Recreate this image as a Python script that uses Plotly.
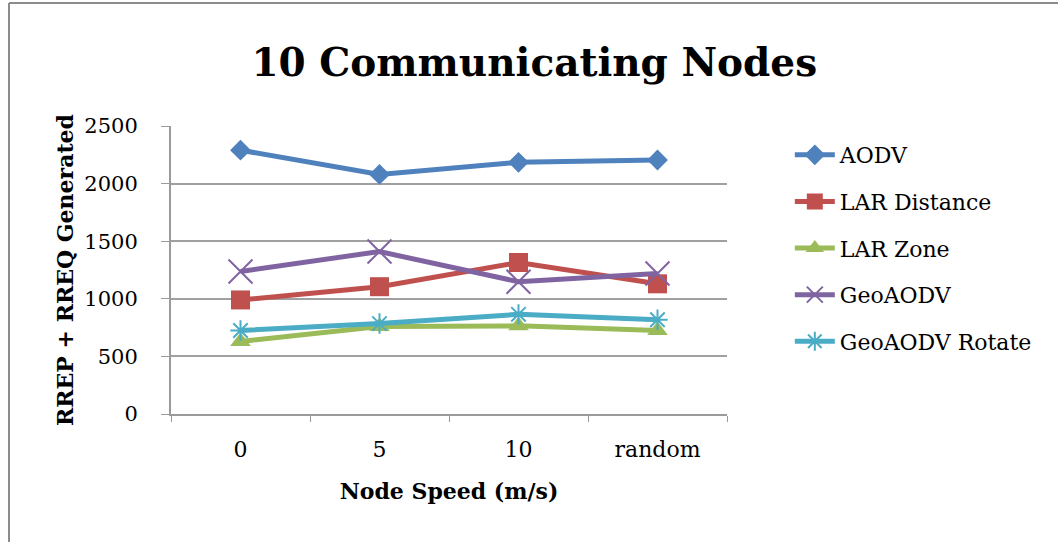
import plotly.graph_objects as go

categories = ["0", "5", "10", "random"]
aodv = [2290, 2080, 2185, 2205]
lar_distance = [990, 1105, 1315, 1130]
lar_zone = [630, 760, 765, 725]
geoaodv = [1237, 1410, 1148, 1220]
geoaodv_rotate = [725, 785, 865, 818]

series = [
    ("AODV", aodv, "#4F81BD", "diamond", 16, 0),
    ("LAR Distance", lar_distance, "#C0504D", "square", 19, 0),
    ("LAR Zone", lar_zone, "#9BBB59", "triangle-up", 18, 0),
    ("GeoAODV", geoaodv, "#8064A2", "x-thin-open", 24, 2),
    ("GeoAODV Rotate", geoaodv_rotate, "#4BACC6", "asterisk-open", 17, 2),
]

fig = go.Figure()
for i, (name, vals, color, sym, size, lw) in enumerate(series):
    fig.add_trace(go.Scatter(
        x=categories, y=vals, name=name, mode="lines+markers",
        line=dict(color=color, width=5),
        marker=dict(symbol=sym, size=size, color=color,
                    line=dict(color=color, width=lw)),
        legendgroup=f"g{i}",
    ))

serif = "DejaVu Serif"
fig.update_layout(
    width=1058, height=542,
    paper_bgcolor="white", plot_bgcolor="white",
    margin=dict(l=171, r=331, t=126, b=128),
    title=dict(text="<b>10 Communicating Nodes</b>", x=0.505, xanchor="center",
               y=0.885, yanchor="middle",
               font=dict(family=serif, size=39, color="black")),
    showlegend=True,
    legend=dict(x=1.113, y=0.972, xanchor="left", yanchor="top",
                font=dict(family=serif, size=22, color="black"),
                tracegroupgap=15, itemwidth=40, bgcolor="rgba(0,0,0,0)"),
    font=dict(family=serif, color="black"),
    shapes=[
        dict(type="line", xref="paper", yref="paper",
             x0=(9 - 171) / 556, x1=(1100 - 171) / 556,
             y0=(414 - 3) / 288, y1=(414 - 3) / 288,
             line=dict(color="#8c8c8c", width=2)),
        dict(type="line", xref="paper", yref="paper",
             x0=(9 - 171) / 556, x1=(9 - 171) / 556,
             y0=(414 - 3) / 288, y1=(414 - 600) / 288,
             line=dict(color="#8c8c8c", width=2)),
    ],
)
fig.update_xaxes(
    type="category", range=[-0.5, 3.5], tickson="boundaries",
    ticks="outside", ticklen=6,
    tickcolor="#9a9a9a", showline=True, linecolor="#9a9a9a", linewidth=2,
    showgrid=False, tickfont=dict(family=serif, size=22, color="black"),
    ticklabelstandoff=15,
    title=dict(text="<b>Node Speed (m/s)</b>", standoff=22,
               font=dict(family=serif, size=22, color="black")),
)
fig.update_yaxes(
    range=[0, 2500], dtick=500, ticks="outside", ticklen=8,
    tickcolor="#9a9a9a", showline=True, linecolor="#9a9a9a", linewidth=2,
    showgrid=True, gridcolor="#a0a0a0", gridwidth=2, zeroline=False,
    tickfont=dict(family=serif, size=21, color="black"),
    ticklabelstandoff=19,
    title=dict(text="<b>RREP + RREQ Generated</b>", standoff=5,
               font=dict(family=serif, size=22, color="black")),
)

fig.write_html("out.html",
               config={"displayModeBar": False},
               post_script="document.body.style.margin='0';"
                           "document.body.style.overflow='hidden';")
